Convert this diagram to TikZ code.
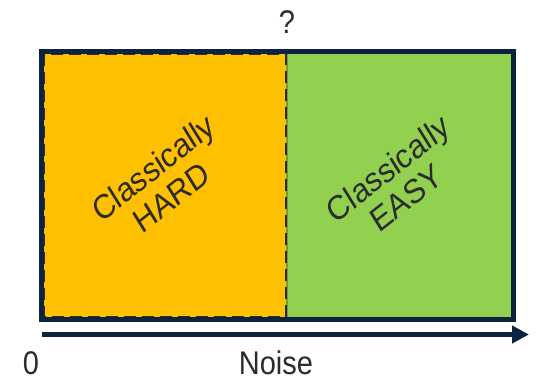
\documentclass[tikz,border=0pt]{standalone}
\usepackage{fontspec}
\setmainfont{Liberation Sans}
\usetikzlibrary{arrows.meta}
\definecolor{navy}{HTML}{0C2340}
\definecolor{hardfill}{HTML}{FFC000}
\definecolor{easyfill}{HTML}{92D050}
\definecolor{easyedge}{HTML}{6E9E3C}
\definecolor{inktext}{HTML}{2B2B2B}
\begin{document}
\begin{tikzpicture}[x=1pt,y=-1pt,
  label/.style={text=inktext,font=\fontsize{29}{31}\selectfont,inner sep=0pt,yscale=1.13,transform shape},
  regionlabel/.style={label,font=\fontsize{30}{32}\selectfont,align=center,rotate=35},
  frame/.style={draw=navy,line width=5pt},
  axis/.style={draw=navy,line width=5.5pt,-{Triangle[length=17pt,width=17pt]}}]
\useasboundingbox (0,0) rectangle (541,381);
% the two regions
\fill[easyfill] (286,51.5) rectangle (513,319);
\draw[easyedge,line width=1.2pt] (287,51.5) rectangle (513,319);
\fill[hardfill] (41,51.5) rectangle (286,319);
\draw[inktext,line width=2pt,dash pattern=on 12pt off 6pt] (44,54) rectangle (286,316.5);
% outer frame
\draw[frame] (41,51.5) rectangle (513,319);
% noise axis
\coordinate (axisstart) at (42,334.5);
\coordinate (axisend) at (529,334.5);
\draw[axis] (axisstart) -- (axisend);
% labels
\node[label] (question) at (287,22) {?};
\node[label] (zero) at (31,363) {0};
\node[label] (noise) at (276,363) {Noise};
\node[regionlabel] (hard) at (162,182) {Classically\\HARD};
\node[regionlabel] (easy) at (397,183) {Classically\\EASY};
\end{tikzpicture}
\end{document}
